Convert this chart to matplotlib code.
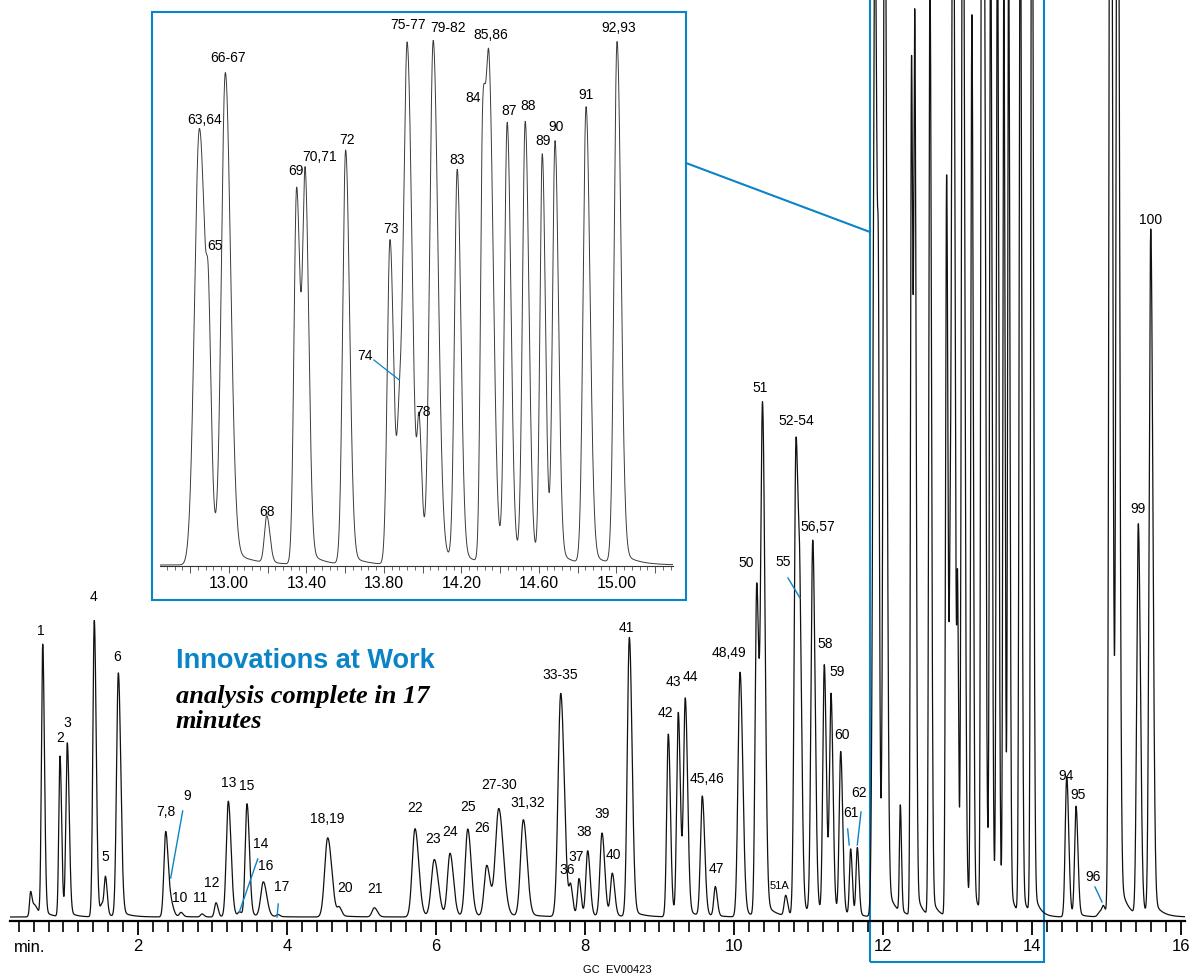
import numpy as np
import matplotlib.pyplot as plt
from matplotlib.patches import Rectangle
from matplotlib.lines import Line2D
from matplotlib.ticker import MultipleLocator, FuncFormatter

plt.rcParams['font.family'] = ['Liberation Sans Narrow', 'Liberation Sans', 'DejaVu Sans']

BLUE = '#0a84c6'

# main run: retention time (min), peak height, peak width (sigma, min)
main_rt = [0.557, 0.604, 0.721, 0.953, 1.051, 1.413, 1.517, 1.564, 1.736,
           2.372, 2.443, 2.577, 2.859, 3.047, 3.212, 3.362, 3.463, 3.682, 3.879,
           4.546, 4.702, 5.172, 5.718, 5.977, 6.188, 6.426, 6.681, 6.842,
           7.172, 7.674, 7.808, 7.919, 8.036, 8.228, 8.366, 8.595,
           9.118, 9.252, 9.346, 9.574, 9.749, 10.081, 10.305, 10.383, 10.694,
           10.832, 10.886, 11.057, 11.212, 11.302, 11.432, 11.566, 11.655,
           14.466, 14.591, 14.913, 14.960, 15.054, 15.148, 15.427, 15.594]
main_height = [20, 12, 268, 158, 170, 292, 10, 36, 240,
               84, 12, 4, 3, 14, 114, 4, 111, 34, 2,
               78, 8, 9, 87, 56, 62, 86, 50, 106,
               95, 220, 26, 36, 64, 82, 42, 275,
               180, 200, 212, 118, 29, 241, 325, 495, 20,
               465, 230, 368, 245, 215, 160, 65, 67,
               138, 108, 5, 9, 1500, 1300, 385, 675]
main_width = [0.013, 0.035, 0.017, 0.016, 0.019, 0.019, 0.020, 0.017, 0.024,
              0.024, 0.025, 0.020, 0.020, 0.020, 0.027, 0.020, 0.024, 0.034, 0.020,
              0.040, 0.024, 0.030, 0.037, 0.040, 0.034, 0.034, 0.034, 0.045,
              0.037, 0.035, 0.020, 0.020, 0.024, 0.027, 0.024, 0.027,
              0.021, 0.021, 0.023, 0.024, 0.020, 0.027, 0.021, 0.024, 0.020,
              0.023, 0.020, 0.023, 0.020, 0.020, 0.020, 0.016, 0.017,
              0.020, 0.019, 0.027, 0.020, 0.018, 0.018, 0.021, 0.021]

# expanded window (peaks 63-93), on the inset time axis
win_rt = [12.847, 12.895, 12.981, 13.195, 13.349, 13.394, 13.602, 13.831,
          13.880, 13.920, 13.982, 14.054, 14.178, 14.309, 14.343, 14.436,
          14.529, 14.617, 14.683, 14.843, 15.003]
win_height = [430, 120, 480, 46, 370, 368, 408, 320,
              120, 505, 120, 512, 385, 400, 465, 430,
              432, 400, 412, 450, 514]
win_width = [0.025, 0.010, 0.020, 0.012, 0.0135, 0.0135, 0.015, 0.014,
             0.012, 0.018, 0.010, 0.018, 0.014, 0.011, 0.016, 0.014,
             0.014, 0.012, 0.013, 0.015, 0.015]

# window time axis -> main run time axis, and attenuation of the expansion
WIN_STRETCH, WIN_SHIFT, WIN_ATTEN = 0.977, -0.659, 2.28

main_labels = [("1", 0.698, 286), ("2", 0.953, 179), ("3", 1.051, 194), ("4", 1.409, 320),
               ("5", 1.557, 60), ("6", 1.725, 260), ("7,8", 2.372, 105), ("9", 2.654, 121),
               ("10", 2.564, 19), ("11", 2.832, 19), ("12", 2.993, 34), ("13", 3.212, 134),
               ("15", 3.459, 131), ("14", 3.647, 73), ("16", 3.714, 51), ("17", 3.929, 30),
               ("18,19", 4.546, 98), ("20", 4.779, 29), ("21", 5.181, 28), ("22", 5.718, 109),
               ("23", 5.964, 78), ("24", 6.188, 85), ("25", 6.426, 110), ("26", 6.621, 89),
               ("27-30", 6.850, 132), ("31,32", 7.226, 114), ("33-35", 7.664, 242),
               ("36", 7.762, 47), ("37", 7.875, 60), ("38", 7.987, 85), ("39", 8.224, 103),
               ("40", 8.380, 62), ("41", 8.560, 289), ("42", 9.083, 204), ("43", 9.185, 235),
               ("44", 9.409, 240), ("45,46", 9.638, 138), ("47", 9.758, 48),
               ("48,49", 9.933, 264), ("50", 10.161, 354), ("51", 10.349, 529),
               ("52-54", 10.832, 496), ("55", 10.658, 355), ("56,57", 11.128, 390),
               ("58", 11.221, 273), ("59", 11.387, 245), ("60", 11.446, 182),
               ("61", 11.566, 104), ("62", 11.682, 124), ("94", 14.456, 141),
               ("95", 14.617, 122), ("96", 14.819, 40), ("99", 15.423, 408),
               ("100", 15.597, 697)]
main_leaders = [(2.600, 106, 2.439, 39), (3.607, 58, 3.360, 5), (3.883, 13, 3.866, 0),
                (10.725, 339, 10.886, 319), (11.526, 88, 11.547, 72),
                (11.705, 105, 11.655, 72), (14.846, 30, 14.940, 15)]

win_labels = [("63,64", 12.876, 445), ("65", 12.928, 319), ("66-67", 12.995, 507),
              ("68", 13.195, 53), ("69", 13.344, 394), ("70,71", 13.470, 408),
              ("72", 13.611, 425), ("73", 13.835, 336), ("74", 13.702, 209),
              ("75-77", 13.924, 540), ("78", 14.001, 153), ("79-82", 14.132, 537),
              ("83", 14.178, 405), ("84", 14.261, 467), ("85,86", 14.352, 530),
              ("87", 14.445, 454), ("88", 14.543, 459), ("89", 14.622, 424),
              ("90", 14.688, 438), ("91", 14.843, 470), ("92,93", 15.013, 537)]
win_leaders = [(13.748, 205, 13.879, 185)]


def trace(t, rt, height, width):
    y = np.zeros_like(t)
    for t0, h, s in zip(rt, height, width):
        d = t - t0
        g = np.where(d < 0, np.exp(-0.5 * (d / s) ** 2), np.exp(-0.5 * (d / (1.35 * s)) ** 2))
        tail = 0.03 * np.exp(-np.clip(d, 0, None) / (5 * s)) * 0.5 * (1 + np.tanh(d / s))
        y += h * (g + tail)
    return y


fig = plt.figure(figsize=(11.95, 9.77), dpi=100)

# ---- main chromatogram
ax = fig.add_axes([10 / 1195, 56 / 977, 1175 / 1195, 921 / 977])
t = np.linspace(0.282, 16.054, 40000)
signal = trace(t, main_rt, main_height, main_width)
signal += trace(t, WIN_STRETCH * np.array(win_rt) + WIN_SHIFT,
                WIN_ATTEN * np.array(win_height),
                WIN_STRETCH * np.array(win_width))
ax.plot(t, signal, color='#111111', lw=0.9)
ax.set_xlim(0.282, 16.054)
ax.set_ylim(-4, 917)
for s in ['top', 'left', 'right']:
    ax.spines[s].set_visible(False)
ax.spines['bottom'].set_linewidth(1.6)
ax.set_yticks([])
ax.xaxis.set_major_locator(MultipleLocator(2))
ax.xaxis.set_minor_locator(MultipleLocator(0.2))
ax.tick_params(axis='x', which='major', length=10, width=1.3, labelsize=12, pad=3)
ax.tick_params(axis='x', which='minor', length=8, width=1.2)
ax.patch.set_alpha(0)

for txt, x, y in main_labels:
    ax.text(x, y, txt, ha='center', va='center', fontsize=10)
ax.text(10.617, 31, "51A", ha='center', va='center', fontsize=8)
for x0, y0, x1, y1 in main_leaders:
    ax.plot([x0, x1], [y0, y1], color=BLUE, lw=1.0, clip_on=False)

# zoom window on the main run
ax.add_patch(Rectangle((11.826, -45), 14.161 - 11.826, 1000, fill=False,
                       edgecolor=BLUE, lw=1.5, clip_on=False))

fig.text(30 / 1195, 1 - 948 / 977, "min.", ha='center', va='center', fontsize=12)
fig.text(617 / 1195, 1 - 970 / 977, "GC  EV00423", ha='center', va='center', fontsize=8)

fig.text(176 / 1195, 1 - 668 / 977, "Innovations at Work", color=BLUE,
         fontsize=19.5, fontweight='bold', ha='left', va='baseline')
fig.text(176 / 1195, 1 - 728 / 977, "analysis complete in 17\nminutes",
         family=['Liberation Serif', 'DejaVu Serif'], fontsize=19,
         fontweight='bold', fontstyle='italic', ha='left', va='baseline',
         linespacing=1.1)

# ---- expanded inset
fig.add_artist(Rectangle((152 / 1195, 1 - 600 / 977), 534 / 1195, 588 / 977,
                         transform=fig.transFigure, fill=False, edgecolor=BLUE, lw=1.5))
fig.add_artist(Line2D([686 / 1195, 870 / 1195], [1 - 163 / 977, 1 - 232 / 977],
                      transform=fig.transFigure, color=BLUE, lw=1.5))

ins = fig.add_axes([160 / 1195, 1 - 566 / 977, 513 / 1195, 552 / 977])
ti = np.linspace(12.644, 15.292, 20000)
ins.plot(ti, trace(ti, win_rt, win_height, win_width), color='#3a3a3a', lw=0.7)
ins.set_xlim(12.644, 15.292)
ins.set_ylim(-1, 551)
for s in ['top', 'left', 'right']:
    ins.spines[s].set_visible(False)
ins.spines['bottom'].set_linewidth(0.8)
ins.spines['bottom'].set_color('#333333')
ins.set_yticks([])
ins.xaxis.set_major_locator(MultipleLocator(0.2))
ins.xaxis.set_minor_locator(MultipleLocator(0.04))
ins.xaxis.set_major_formatter(FuncFormatter(
    lambda v, p: f"{v:.2f}" if abs(round((v - 13.0) / 0.4) * 0.4 - (v - 13.0)) < 1e-6 else ""))
ins.tick_params(axis='x', which='major', length=5, width=0.7, labelsize=11.5, pad=2, color='#555555')
ins.tick_params(axis='x', which='minor', length=3, width=0.6, color='#555555')
ins.patch.set_alpha(0)

for txt, x, y in win_labels:
    ins.text(x, y, txt, ha='center', va='center', fontsize=10, clip_on=False)
for x0, y0, x1, y1 in win_leaders:
    ins.plot([x0, x1], [y0, y1], color=BLUE, lw=0.9, clip_on=False)

fig.savefig("out.png", dpi=100)
